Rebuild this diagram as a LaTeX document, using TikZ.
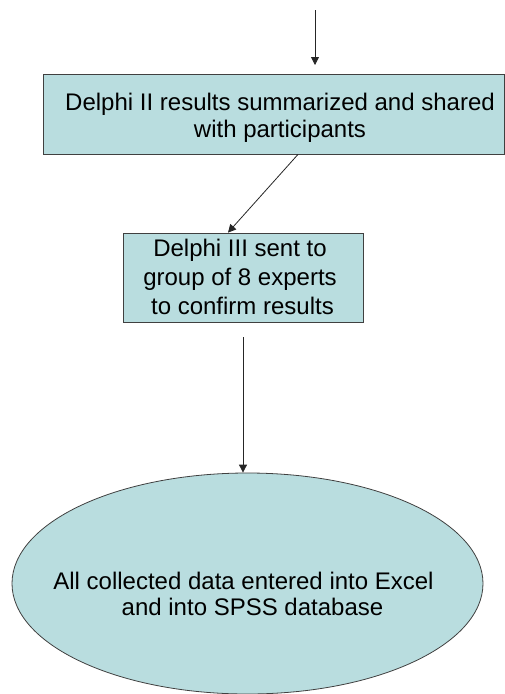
\documentclass[tikz,border=0pt]{standalone}
\usepackage{fontspec}
\setmainfont{Liberation Sans}
\usetikzlibrary{arrows.meta,shapes.geometric}
\definecolor{boxfill}{RGB}{185,221,223}
\begin{document}
\begin{tikzpicture}[x=1pt,y=-1pt,
  shapebox/.style={rectangle, draw=black!75, line width=0.8pt, fill=boxfill, inner sep=0pt},
  oval/.style={ellipse, draw=black!75, line width=0.8pt, fill=boxfill, inner sep=0pt},
  txt/.style={align=center, inner sep=0pt},
  arr/.style={draw=black!85, line width=0.8pt, -{Triangle[length=8pt,width=8pt]}}]
\clip (0,0) rectangle (505,694);
% shapes
\node[shapebox, minimum width=461pt, minimum height=80pt] (b1) at (273.5,114) {};
\node[txt, font=\fontsize{24}{27}\selectfont] (t1) at (280,117.4)
  {Delphi II results summarized and shared\\with participants};
\node[shapebox, minimum width=240pt, minimum height=89pt] (b2) at (243,277.5) {};
\node[txt, font=\fontsize{24}{29}\selectfont] (t2) at (240,277.4)
  {Delphi III sent to\\group of 8 experts\hspace*{7pt}\\\hspace*{5pt}to confirm results};
\node[oval, minimum width=471pt, minimum height=221pt] (e) at (247.5,583.5) {};
\node[txt, font=\fontsize{24}{26}\selectfont] (t3) at (248,594.4)
  {All collected data entered into Excel\hspace*{9pt}\\\hspace*{9pt}and into SPSS database};
% connectors
\coordinate (a0) at (315,10);
\coordinate (a1) at (315,65);
\draw[arr] (a0) -- (a1);
\draw[arr] ([xshift=24.5pt]b1.south) -- ([xshift=-15pt]b2.north);
\coordinate (s3) at (243,337);
\draw[arr] (s3) -- (s3 |- e.north);
\end{tikzpicture}
\end{document}
